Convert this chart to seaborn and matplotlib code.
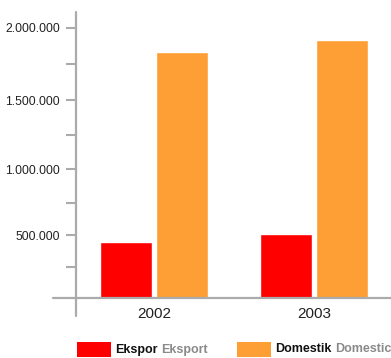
import numpy as np
import pandas as pd
import matplotlib
matplotlib.use("Agg")
import matplotlib.pyplot as plt
from matplotlib.patches import Rectangle
from matplotlib.lines import Line2D
import seaborn as sns

# Data
years = ["2002", "2003"]
ekspor = [445000, 512000]
domestik = [1835000, 1920000]
series_names = ["Ekspor", "Domestik"]
series_alt = ["Eksport", "Domestic"]
y_ticks = [500000, 1000000, 1500000, 2000000]
y_tick_labels = ["500.000", "1.000.000", "1.500.000", "2.000.000"]
y_minor = [250000, 750000, 1250000, 1750000]

df = pd.DataFrame({
    "year": years * 2,
    "value": ekspor + domestik,
    "series": [series_names[0]] * len(years) + [series_names[1]] * len(years),
})

sns.set_theme(style="white")
plt.rcParams["font.family"] = ["Liberation Sans", "DejaVu Sans"]

AXIS_GRAY = "#ABABAB"
RED = "#FF0000"
ORANGE = "#FD9F34"

W, H = 391, 358
fig = plt.figure(figsize=(W / 100, H / 100), dpi=100)
ax = fig.add_axes([76 / W, (H - 298) / H, (W - 76) / W, (298 - 11.7) / H])

# slightly expanding value scale
K = 5.275e-8
def fwd(y):
    y = np.asarray(y, dtype=float)
    return y * (1 + K * y)
def inv(t):
    t = np.asarray(t, dtype=float)
    return (-1 + np.sqrt(np.clip(1 + 4 * K * t, 0, None))) / (2 * K)
ax.set_yscale("function", functions=(fwd, inv))

sns.barplot(data=df, x="year", y="value", hue="series",
            palette=[RED, ORANGE], width=0.7, gap=0.0714,
            saturation=1, ax=ax, legend=False, zorder=2)

ax.set_ylim(0, 2.108e6)
ax.set_xlim(-0.4875, 1.48)
ax.set_xlabel("")
ax.set_ylabel("")

ax.set_yticks(y_ticks)
ax.set_yticklabels(y_tick_labels)
ax.set_yticks(y_minor, minor=True)
ax.tick_params(axis="y", which="both", direction="out", length=7.3, width=1.5,
               color=AXIS_GRAY, pad=4.3, labelsize=8.8, labelcolor="#222222", left=True)
ax.tick_params(axis="x", length=0, pad=6.5, labelsize=11, labelcolor="#222222")

for s in ax.spines.values():
    s.set_visible(False)

# axis lines, extended past the plot corner
ax.add_line(Line2D([(53 - 76) / (W - 76), 1.0], [0, 0], transform=ax.transAxes,
                   color=AXIS_GRAY, lw=1.6, clip_on=False, zorder=3))
ax.add_line(Line2D([0, 0], [(298 - 316) / (298 - 11.7), 1.0], transform=ax.transAxes,
                   color=AXIS_GRAY, lw=1.6, clip_on=False, zorder=3))

# legend
colors = [RED, ORANGE]
patch_x = [77, 237]
fig.canvas.draw()
renderer = fig.canvas.get_renderer()
for i in range(2):
    px = patch_x[i]
    fig.patches.append(Rectangle((px / W, (H - 357) / H), 34 / W, 15 / H,
                                 transform=fig.transFigure, facecolor=colors[i],
                                 edgecolor="none"))
    t1 = fig.text((px + 38) / W, (H - 349.5) / H, series_names[i], fontsize=9,
                  fontweight="bold", color="#111111", va="center", ha="left")
    bb = t1.get_window_extent(renderer=renderer)
    fig.text((bb.x1 + 3.5) / W, (H - 349.5) / H, series_alt[i], fontsize=9,
             fontweight="bold", color="#8A8A8A", va="center", ha="left")

fig.savefig("out.png", dpi=100)
